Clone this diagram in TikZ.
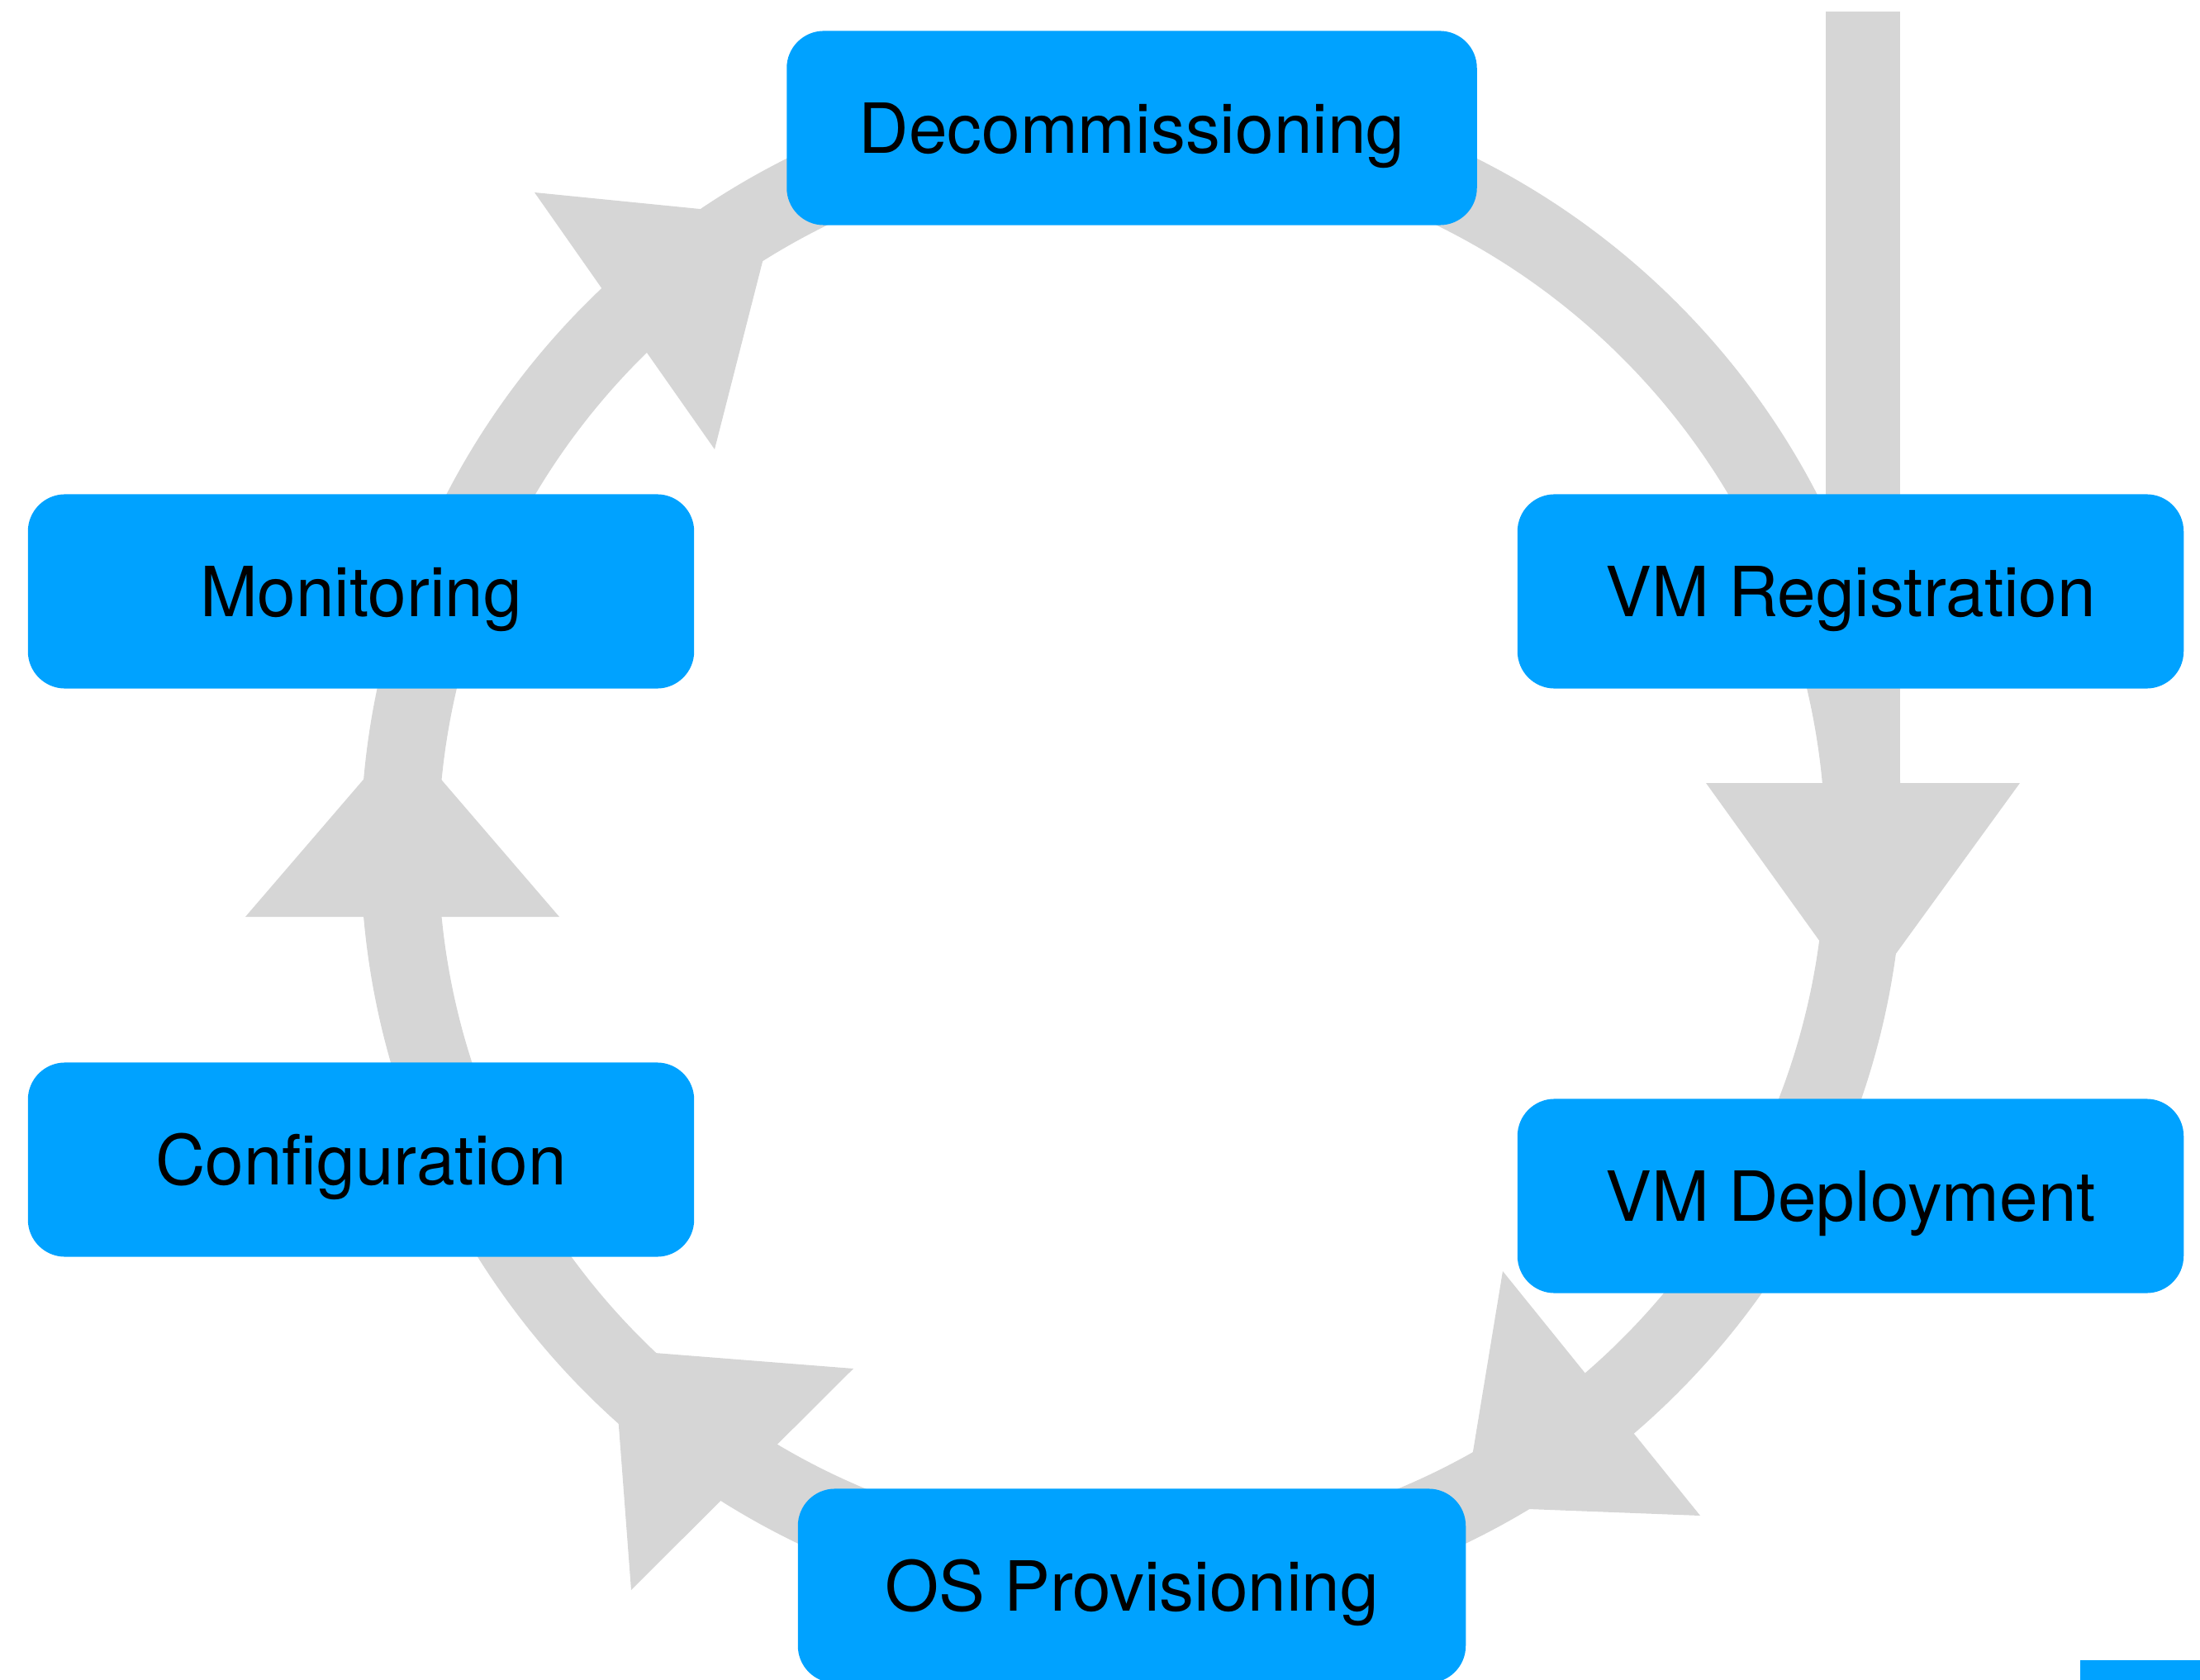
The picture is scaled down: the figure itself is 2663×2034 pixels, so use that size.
\documentclass[tikz,border=0pt]{standalone}
\usepackage{fontspec}
\setmainfont{TeX Gyre Heros}
\definecolor{kblue}{RGB}{0,162,255}
\definecolor{kgray}{RGB}{214,214,214}
\begin{document}
\begin{tikzpicture}[x=0.01cm,y=-0.01cm,
  stage/.style={fill=kblue, draw=none, rounded corners=0.45cm, inner sep=0pt,
    minimum width=8.06cm, minimum height=2.35cm,
    font=\fontsize{23.8}{28}\selectfont, text=black,
    text height=17.1pt, text depth=0pt},
  ring/.style={draw=kgray, line width=0.94cm},
  head/.style={fill=kgray, draw=none}]
\useasboundingbox (0,0) rectangle (2663,2034);
% cycle ring
\coordinate (ctr) at (1370,1027);
\draw[ring] (ctr) circle[radius=8.86cm];
% entry bar from the top
\fill[kgray] (2210,14) rectangle (2300,948);
% arrow heads
\fill[head] (2065,948) -- (2254,1211) -- (2445,948) -- cycle;   % entry -> deployment side
\fill[head] (1819,1539) -- (1772,1824) -- (2058,1835) -- cycle; % deployment -> OS
\fill[head] (1033,1657) -- (742,1634) -- (764,1925) -- cycle;   % OS -> configuration
\fill[head] (297,1110) -- (487,889) -- (677,1110) -- cycle;     % configuration -> monitoring
\fill[head] (647,233) -- (937,262) -- (865,544) -- cycle;       % monitoring -> decommissioning
% stages
\node[stage, minimum width=8.35cm] (dec) at (1370,155) {Decommissioning};
\node[stage] (mon) at (437,716) {Monitoring};
\node[stage] (reg) at (2240,716) {VM Registration};
\node[stage] (con) at (437,1404) {Configuration};
\node[stage] (dep) at (2240,1448) {VM Deployment};
\node[stage, minimum width=8.08cm] (os) at (1370,1920) {OS Provisioning};
% partial box at the lower right edge
\fill[kblue] (2518,2010) rectangle (2700,2100);
\end{tikzpicture}
\end{document}
